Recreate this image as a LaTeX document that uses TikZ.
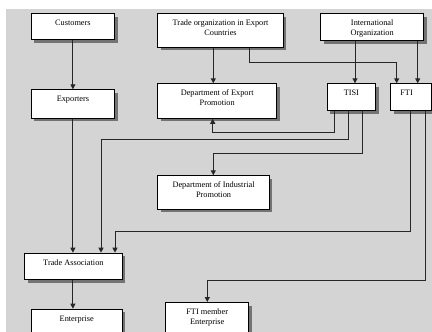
\documentclass[tikz,border=0pt]{standalone}
\usepackage{fontspec}
\setmainfont{Liberation Serif}
\usetikzlibrary{shadows,arrows.meta,calc}
\newcommand{\bxt}[3]{\parbox[c][#2][t]{#1}{\centering\rule{0pt}{12pt}#3\par}}
\begin{document}
\begin{tikzpicture}[x=1pt,y=-1pt,
  box/.style={draw=black, line width=1.1pt, fill=white, inner sep=0pt, anchor=north west,
    drop shadow={shadow xshift=3pt,shadow yshift=-3pt,fill=black!55,opacity=1},
    font=\fontsize{8.3}{10}\selectfont},
  arr/.style={draw=black!85, line width=0.9pt, -{Triangle[width=5pt,length=5pt]}}]
\clip (0,0) rectangle (432,332);
\fill[white] (0,0) rectangle (432,332);
\fill[black!17] (6,9) rectangle (432,332);
\node[box] (cust) at (30.7,13) {\bxt{83.3pt}{26.3pt}{Customers}};
\node[box] (exp) at (30.7,89.3) {\bxt{83.3pt}{28.4pt}{Exporters}};
\node[box] (trade) at (157.3,13) {\bxt{125.4pt}{33.7pt}{Trade organization in Export\\Countries}};
\node[box] (dep) at (157.3,83.3) {\bxt{118.7pt}{34.4pt}{Department of Export\\Promotion}};
\node[box] (intl) at (320,13) {\bxt{103.3pt}{27pt}{International\\Organization}};
\node[box] (tisi) at (326.7,83.3) {\bxt{48.3pt}{26.7pt}{TISI}};
\node[box] (fti) at (390,83.3) {\bxt{41pt}{26.7pt}{\hspace*{-9pt}FTI}};
\node[box] (dind) at (157.3,175.3) {\bxt{111.4pt}{33.4pt}{Department of Industrial\\Promotion}};
\node[box] (ta) at (24,252.7) {\bxt{97.7pt}{26.6pt}{Trade Association}};
\node[box] (ent) at (30.7,308.7) {\bxt{91pt}{40pt}{Enterprise}};
\node[box] (fmem) at (165,302) {\bxt{83.3pt}{45pt}{FTI member\\Enterprise}};
% connectors
\draw[arr] (cust.south) -- (exp.north);
\draw[arr] (exp.south) -- (exp.south |- ta.north);
\draw[arr] (exp.south |- ta.south) -- (exp.south |- ent.north);
\draw[arr] ([xshift=56pt]trade.south west) -- ([xshift=56pt]trade.south west |- dep.north);
\draw[arr] ([xshift=92pt]trade.south west) -- ++(0,15) -| ([xshift=6.7pt]fti.north west);
\draw[arr] ([xshift=35pt]intl.south west) -- ([xshift=35pt]intl.south west |- tisi.north);
\draw[arr] ([xshift=97.7pt]intl.south west) -- ([xshift=97.7pt]intl.south west |- fti.north);
\draw[arr] ([xshift=7.3pt]tisi.south west) |- (212.7,132) -- ([xshift=55.4pt]dep.south west);
\draw[arr] ([xshift=21.6pt]tisi.south west) |- (101,139.7) -- ([xshift=77pt]ta.north west);
\draw[arr] ([xshift=35.6pt]tisi.south west) |- (213.3,153.3) -- ([xshift=56pt]dind.north west);
\draw[arr] ([xshift=20.7pt]fti.south west) |- (115,231.7) -- ([xshift=91pt]ta.north west);
\draw[arr] ([xshift=35pt]fti.south west) |- (207.3,280.5) -- ([xshift=42.3pt]fmem.north west);
\end{tikzpicture}
\end{document}
